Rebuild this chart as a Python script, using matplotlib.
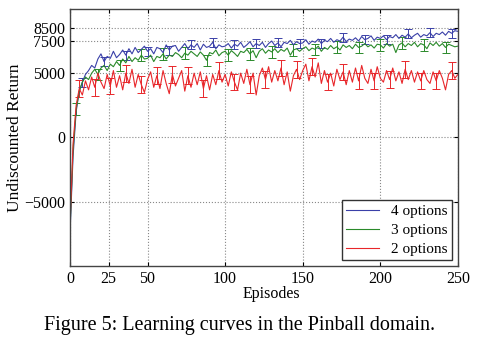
import matplotlib
matplotlib.use("Agg")
import matplotlib.pyplot as plt

plt.rcParams["font.family"] = ["Liberation Serif", "DejaVu Serif"]

# episodes (every 2nd episode)
episodes = list(range(0, 251, 2))

ret_4opt = [-7600, -1500, 2000, 3600, 4300, 4900, 5200, 5600, 5400, 6100,
            6500, 5900, 6300, 6150, 6700, 6200, 6450, 6800, 6400, 6900,
            6500, 7000, 6600, 6850, 7100, 6700, 6900, 6500, 7000, 6900,
            6600, 7200, 6800, 7100, 7150, 6700, 7000, 7300, 6900, 7200,
            7000, 7300, 6800, 7250, 7000, 7100, 7400, 6900, 7200, 7050,
            7100, 7300, 6950, 7250, 7100, 7400, 7000, 7200, 7450, 7050,
            7300, 7150, 7400, 7000, 7300, 7500, 7150, 7350, 7050, 7400,
            7300, 7550, 7200, 7450, 7300, 7350, 7600, 7250, 7500, 7400,
            7650, 7300, 7550, 7450, 7700, 7400, 7600, 7500, 7800, 7450,
            7650, 7550, 7750, 7500, 7850, 7600, 7700, 7900, 7550, 7800,
            7700, 7900, 7600, 7850, 7750, 8000, 7700, 7950, 7800, 8050,
            7750, 7950, 8100, 7800, 8000, 7900, 8150, 7850, 8100, 8000,
            8200, 7950, 8250, 8100, 8300, 8250]

ret_3opt = [-7300, -1000, 2200, 3600, 4300, 4700, 4500, 5000, 5300, 4900,
            5400, 5600, 5200, 5700, 5500, 5900, 5600, 6100, 5800, 6300,
            5900, 6200, 6000, 6400, 6100, 6150, 6400, 5900, 6300, 6200,
            6500, 6100, 6400, 6300, 6600, 6450, 6200, 6550, 6400, 6700,
            6500, 6300, 6650, 6400, 6000, 6600, 6500, 6800, 6350, 6600,
            6700, 6400, 6750, 6550, 6300, 6700, 6600, 6850, 6500, 6750,
            6200, 6700, 6900, 6550, 6800, 6650, 6900, 6600, 6850, 6700,
            6950, 6400, 6800, 6900, 6700, 6900, 7050, 6750, 6950, 6850,
            7100, 6700, 7000, 6850, 7150, 6900, 7050, 6800, 7200, 7000,
            7150, 6900, 7250, 7000, 7100, 7300, 7050, 7200, 6950, 7250,
            7200, 6950, 7300, 7100, 7250, 6600, 7200, 7350, 7050, 7300,
            7150, 7400, 7050, 7300, 7200, 6900, 7350, 7150, 7400, 7100,
            7300, 7000, 7250, 7150, 7050, 7100]

ret_2opt = [-7000, -500, 2500, 3800, 3300, 4400, 3700, 4700, 3900, 5000,
            4300, 3800, 4900, 4000, 5200, 3900, 4800, 3700, 5000, 4200,
            5300, 3900, 4900, 4100, 3500, 4500, 5100, 3900, 4800, 3800,
            5200, 4200, 3400, 4900, 4000, 4600, 5200, 3600, 4800, 3900,
            5000, 4100, 5100, 3800, 4800, 3700, 4900, 4100, 5200, 4300,
            4900, 4000, 5100, 4300, 3700, 5000, 4200, 5300, 4100, 5000,
            3300, 4800, 5400, 4500, 5500, 4300, 5200, 4400, 5400, 4100,
            5100, 3600, 4800, 5300, 4500, 5200, 5700, 4400, 5500, 4700,
            5800, 4200, 5200, 4300, 5000, 4000, 5300, 4500, 5100, 4100,
            5200, 4300, 5400, 4400, 5600, 4600, 4200, 5300, 4400, 5500,
            4600, 4300, 5200, 4500, 5400, 4400, 5100, 4200, 5300, 4500,
            5200, 4300, 5100, 4400, 5200, 4500, 4200, 5100, 4400, 5200,
            4600, 3700, 4900, 5200, 4600, 4900]

# error bar half widths
err_4opt = 350
err_3opt = 450
err_2opt = 650

labels = ["4 options", "3 options", "2 options"]
colors = ["#3a40a8", "#2a8a2a", "#e8262a"]
err_every = [(4, 7), (2, 7), (3, 5)]

fig = plt.figure(figsize=(4.79, 3.41), dpi=100)
ax = fig.add_axes([0.146, 0.22, 0.81, 0.754])

series = [(ret_4opt, err_4opt), (ret_3opt, err_3opt), (ret_2opt, err_2opt)]
for (vals, err), lab, col, ev in zip(series, labels, colors, err_every):
    ax.errorbar(episodes, vals, yerr=err, errorevery=ev, color=col,
                lw=0.8, elinewidth=0.7, capsize=3, capthick=0.7, label=lab)

ax.set_xlim(0, 250)
ax.set_ylim(-10000, 10000)
ax.set_xticks([0, 25, 50, 100, 150, 200, 250])
ax.set_yticks([-5000, 0, 5000, 7500, 8500])
ax.grid(True, linestyle=":", color="#888888", lw=0.8)
ax.tick_params(direction="in", labelsize=11.5, top=True, right=True, length=3)
for s in ax.spines.values():
    s.set_color("#444444")
    s.set_linewidth(1.0)

ax.set_xlabel("Episodes", fontsize=11.5)
ax.xaxis.set_label_coords(0.52, -0.078)
ax.set_ylabel("Undiscounted Return", fontsize=12.5)
ax.yaxis.set_label_coords(-0.122, 0.5)

handles, labs = ax.get_legend_handles_labels()
handles = [h[0] for h in handles]
leg = ax.legend(handles, labs, loc="lower right", fontsize=11, fancybox=False,
                framealpha=1, edgecolor="#333333", borderaxespad=0.4,
                handlelength=2.2, labelspacing=0.35, borderpad=0.25)
leg.get_frame().set_linewidth(1.0)

fig.text(0.5, 0.044, "Figure 5: Learning curves in the Pinball domain.",
         ha="center", va="center", fontsize=14.5)

fig.savefig("out.png", dpi=100)
